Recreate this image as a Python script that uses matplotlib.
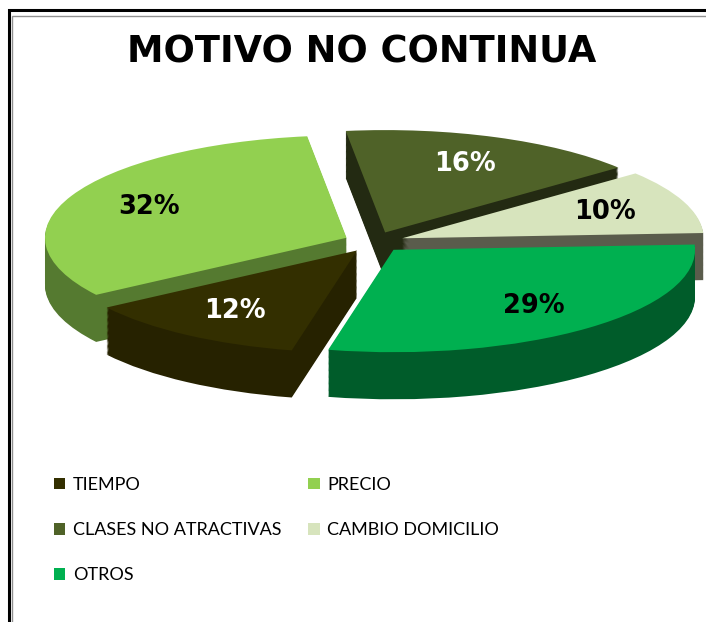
import numpy as np
import matplotlib
matplotlib.use("Agg")
import matplotlib.pyplot as plt
from matplotlib.patches import Rectangle

# datos del grafico
categorias = ["TIEMPO", "PRECIO", "CLASES NO ATRACTIVAS", "CAMBIO DOMICILIO", "OTROS"]
valores = [12, 32, 16, 10, 29]
colores = ["#332f00", "#92d050", "#4f6228", "#d7e4bd", "#00b050"]
colores_lado = ["#262200", "#557a30", "#232a12", "#5a5c4c", "#005c2a"]
color_pct = ["white", "black", "white", "black", "black"]

explode = [0.1] * len(valores)
inicio = 257.5
grosor = 0.46
n_capas = 40

fig = plt.figure(figsize=(7.06, 6.22), dpi=100)
fig.patch.set_facecolor("white")
ax = fig.add_axes([20 / 706, 1 - 440 / 622, 680 / 706, 335 / 622])

# paredes laterales: copias desplazadas hacia abajo
for z in np.linspace(-grosor, 0, n_capas, endpoint=False):
    ax.pie(valores, explode=explode, colors=colores_lado, startangle=inicio,
           counterclock=False, center=(0, z), wedgeprops=dict(linewidth=0))

# cara superior
wedges, textos, pcts = ax.pie(valores, explode=explode, colors=colores,
                              startangle=inicio, counterclock=False,
                              autopct="%1.0f%%", pctdistance=0.72,
                              wedgeprops=dict(linewidth=0),
                              textprops=dict(family="DejaVu Sans",
                                             fontweight="bold", fontsize=18.5))
for t, c in zip(pcts, color_pct):
    t.set_color(c)

ax.set_aspect("auto")
ax.set_xlim(-1.174, 1.081)
ax.set_ylim(-1.934, 1.338)
ax.axis("off")

fig.text(362 / 706, 1 - 52 / 622, "MOTIVO NO CONTINUA", ha="center", va="center",
         fontsize=26.5, fontweight="bold", family="DejaVu Sans")

# leyenda por filas
orden = [0, 2, 4, 1, 3]
fig.legend(handles=[wedges[i] for i in orden], labels=[categorias[i] for i in orden],
           ncol=2, loc="upper left", bbox_to_anchor=(54 / 706, 1 - 477 / 622),
           frameon=False, prop=dict(family="Lato", size=13),
           handlelength=0.62, handleheight=0.62, handletextpad=0.42,
           columnspacing=1.5, labelspacing=1.62, borderpad=0, borderaxespad=0)

# marco
fig.add_artist(Rectangle((9 / 706, -0.1), 1.0, 1 - 10 / 622 + 0.1,
                         transform=fig.transFigure, fill=False,
                         edgecolor="black", lw=2.2))
fig.add_artist(Rectangle((11.5 / 706, -0.1), 1.0, 1 - 15.5 / 622 + 0.1,
                         transform=fig.transFigure, fill=False,
                         edgecolor="#909090", lw=1.0))

fig.savefig("out.png", dpi=100)
